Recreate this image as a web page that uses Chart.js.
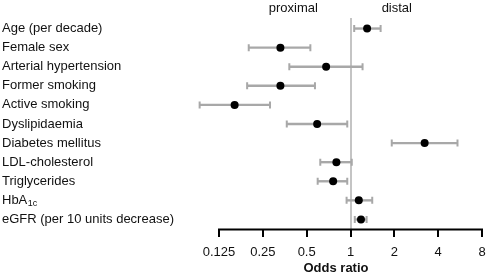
<!DOCTYPE html>
<html>
<head>
<meta charset="utf-8">
<script src="https://cdn.jsdelivr.net/npm/chart.js@4/dist/chart.umd.min.js"></script>
<style>
  html, body { margin: 0; padding: 0; background: #fff; }
  #wrap { width: 487px; height: 274px; }
</style>
</head>
<body>
<div id="wrap"><canvas id="c" width="487" height="274"></canvas></div>
<script>
const categories = ['Age (per decade)', 'Female sex', 'Arterial hypertension', 'Former smoking',
  'Active smoking', 'Dyslipidaemia', 'Diabetes mellitus', 'LDL-cholesterol', 'Triglycerides',
  'HbA1c', 'eGFR (per 10 units decrease)'];
const oddsRatio = [1.30, 0.33, 0.68, 0.33, 0.16, 0.59, 3.23, 0.80, 0.76, 1.14, 1.18];
const ciLower   = [1.06, 0.20, 0.38, 0.195, 0.092, 0.365, 1.92, 0.62, 0.595, 0.94, 1.07];
const ciUpper   = [1.61, 0.53, 1.21, 0.57, 0.28, 0.95, 5.43, 1.02, 0.95, 1.41, 1.29];
const xTicks = [0.125, 0.25, 0.5, 1, 2, 4, 8];
const sideLabels = ['proximal', 'distal'];

const FONT = "'Liberation Sans', Arial, sans-serif";

const forestPlugin = {
  id: 'forest',
  beforeDatasetsDraw(chart) {
    const ctx = chart.ctx, xs = chart.scales.x, ys = chart.scales.y, ca = chart.chartArea;
    ctx.save();
    // reference line at OR = 1
    const x1 = Math.round(xs.getPixelForValue(1));
    ctx.strokeStyle = '#c4c4c4';
    ctx.lineWidth = 2;
    ctx.beginPath();
    ctx.moveTo(x1, ca.top - 1);
    ctx.lineTo(x1, ca.bottom);
    ctx.stroke();
    // error bars
    ctx.strokeStyle = '#a8a8a8';
    for (let i = 0; i < categories.length; i++) {
      const y = ys.getPixelForValue(i);
      const a = xs.getPixelForValue(ciLower[i]);
      const b = xs.getPixelForValue(ciUpper[i]);
      ctx.lineWidth = 2.4;
      ctx.beginPath();
      ctx.moveTo(a, y); ctx.lineTo(b, y);
      ctx.stroke();
      ctx.lineWidth = 2;
      ctx.beginPath();
      ctx.moveTo(a, y - 3.5); ctx.lineTo(a, y + 3.5);
      ctx.moveTo(b, y - 3.5); ctx.lineTo(b, y + 3.5);
      ctx.stroke();
    }
    ctx.restore();
  },
  afterDraw(chart) {
    const ctx = chart.ctx, xs = chart.scales.x, ys = chart.scales.y, ca = chart.chartArea;
    ctx.save();
    // x axis line from first to last tick
    ctx.strokeStyle = '#000';
    ctx.lineWidth = 2;
    ctx.beginPath();
    ctx.moveTo(xs.getPixelForValue(xTicks[0]) - 1, ca.bottom + 0.5);
    ctx.lineTo(xs.getPixelForValue(xTicks[xTicks.length - 1]) + 1, ca.bottom + 0.5);
    ctx.stroke();
    // proximal / distal
    ctx.fillStyle = '#111';
    ctx.font = '13px ' + FONT;
    ctx.textAlign = 'center';
    ctx.textBaseline = 'middle';
    ctx.fillText(sideLabels[0], xs.getPixelForValue(0.405), 8);
    ctx.fillText(sideLabels[1], xs.getPixelForValue(2.08), 8);
    // subscript for HbA1c
    const idx = categories.indexOf('HbA1c');
    if (idx >= 0) {
      const y = ys.getPixelForValue(idx);
      ctx.font = '13px ' + FONT;
      const w = ctx.measureText('HbA').width;
      ctx.font = '9px ' + FONT;
      ctx.textAlign = 'left';
      ctx.textBaseline = 'middle';
      ctx.fillText('1c', ys.left + w + 0.5, y + 3.5);
    }
    ctx.restore();
  }
};

new Chart(document.getElementById('c'), {
  type: 'scatter',
  data: {
    datasets: [{
      data: oddsRatio.map((v, i) => ({ x: v, y: i })),
      backgroundColor: '#000',
      borderColor: '#000',
      pointRadius: 4,
      pointHoverRadius: 4,
      borderWidth: 0
    }]
  },
  options: {
    responsive: false,
    animation: false,
    devicePixelRatio: 1,
    layout: { padding: { left: 2, right: 5, top: 19, bottom: 0 } },
    plugins: { legend: { display: false }, tooltip: { enabled: false } },
    scales: {
      x: {
        type: 'logarithmic',
        min: 0.079,
        max: 8,
        border: { display: false },
        grid: { display: true, drawOnChartArea: false, drawTicks: true, tickLength: 8, color: '#000', lineWidth: 2 },
        afterBuildTicks(scale) { scale.ticks = xTicks.map(v => ({ value: v })); },
        afterFit(scale) { scale.height = 45; scale.paddingLeft = 0; scale.paddingRight = 0; },
        ticks: {
          color: '#111',
          font: { family: FONT, size: 13 },
          padding: 8,
          maxRotation: 0,
          autoSkip: false,
          callback: (v) => String(v)
        },
        title: {
          display: true,
          text: 'Odds ratio',
          color: '#111',
          font: { family: FONT, size: 13, weight: 'bold', lineHeight: 0.85 },
          padding: { top: 0, bottom: 0 }
        }
      },
      y: {
        type: 'linear',
        reverse: true,
        min: -0.5,
        max: categories.length - 0.5,
        border: { display: false },
        grid: { display: false },
        afterBuildTicks(scale) { scale.ticks = categories.map((c, i) => ({ value: i })); },
        afterFit(scale) { scale.width = 188; scale.paddingTop = 0; scale.paddingBottom = 0; },
        ticks: {
          color: '#111',
          crossAlign: 'far',
          font: { family: FONT, size: 13 },
          autoSkip: false,
          callback: (v) => { const c = categories[v]; return c === 'HbA1c' ? 'HbA' : c; }
        }
      }
    }
  },
  plugins: [forestPlugin]
});
</script>
</body>
</html>
